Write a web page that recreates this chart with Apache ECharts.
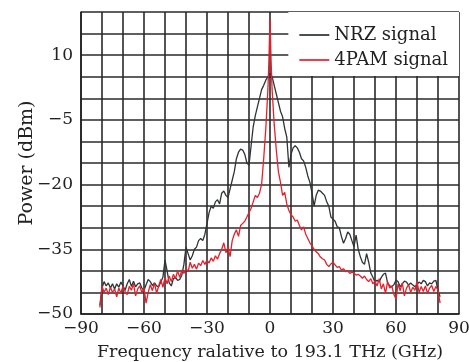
<!DOCTYPE html>
<html>
<head>
  <meta charset="UTF-8">
  <title></title>
  <script type="text/javascript" src="https://cdn.jsdelivr.net/npm/echarts@6/dist/echarts.min.js"></script>
  <style type="text/css">
    *{ margin: 0; padding: 0; box-sizing: border-box; }
    body{ background: #fff; }
    #main{ width: 469px; height: 362px; }
  </style>
</head>
<body>
  <div id="main"></div>
  <script type="text/javascript">
    // NRZ signal spectrum (GHz, dBm)
    var nrzFreq = [-81,-80,-79,-78,-77,-76,-75,-74,-73,-72,-71,-70,-69,-68,-67,-66,-65,-64,-63,-62,-61,-60,-59,-58,-57,-56,-55,-54,-53,-52,-51,-50,-49,-48,-47,-46,-45,-44,-43,-42,-41,-40,-39,-38,-37,-36,-35,-34,-33,-32,-31,-30,-29,-28,-27,-26,-25,-24,-23,-22,-21,-20,-19,-18,-17,-16,-15,-14,-13,-12,-11,-10,-9,-8,-7,-6,-5,-4,-3,-2,-1,0,1,2,3,4,5,6,7,8,9,10,11,12,13,14,15,16,17,18,19,20,21,22,23,24,25,26,27,28,29,30,31,32,33,34,35,36,37,38,39,40,41,42,43,44,45,46,47,48,49,50,51,52,53,54,55,56,57,58,59,60,61,62,63,64,65,66,67,68,69,70,71,72,73,74,75,76,77,78,79,80,81];
    var nrzPower = [-48,-44,-42.5,-43.5,-42.8,-44,-43,-44.2,-43,-43.8,-42.6,-43.5,-44.5,-43,-42,-43.6,-42.4,-43.7,-43,-42.8,-44,-44.5,-43.2,-42,-42.5,-43.4,-42.8,-43.5,-43.7,-42.6,-41.5,-37.5,-40,-42.8,-43.5,-41.8,-41.5,-42.2,-42,-41,-38.5,-34.5,-36,-37.5,-36.5,-35,-34.5,-33,-32.5,-33,-31.5,-29,-26.5,-25,-25.5,-24,-23.5,-24.5,-22,-21.5,-22.5,-23,-21,-19,-17,-14,-12.5,-11.8,-12,-13,-15,-15.5,-11,-6.6,-4,-2,0,2,3,4.2,5,5.8,5,3,1,-1,-3,-4.3,-7,-9,-16,-13,-11.5,-11,-11.5,-12.5,-14,-14.5,-16,-18,-19.5,-22,-25,-22.5,-21.3,-21.5,-22,-22.5,-24,-25,-27.5,-28,-28.5,-29.8,-30,-32,-33.6,-32.5,-31,-31.5,-33,-34.4,-31.7,-35,-36.7,-38,-38.5,-36,-38,-40.5,-41.5,-42.6,-42.2,-42.6,-41.5,-40.8,-40.5,-42.8,-43.5,-43.7,-43.2,-42.1,-42.5,-43.7,-43,-42.4,-42.6,-43.3,-42.8,-43.3,-43.7,-43.2,-42.6,-43,-42.2,-42.5,-43.5,-42.8,-43,-42.4,-42.2,-44.5,-46];

    // 4PAM signal spectrum (GHz, dBm)
    var pamFreq = [-81,-80,-79,-78,-77,-76,-75,-74,-73,-72,-71,-70,-69,-68,-67,-66,-65,-64,-63,-62,-61,-60,-59,-58,-57,-56,-55,-54,-53,-52,-51,-50,-49,-48,-47,-46,-45,-44,-43,-42,-41,-40,-39,-38,-37,-36,-35,-34,-33,-32,-31,-30,-29,-28,-27,-26,-25,-24,-23,-22,-21,-20,-19,-18,-17,-16,-15,-14,-13,-12,-11,-10,-9,-8,-7,-6,-5,-4,-3,-2,-1,-0.5,0,0.5,1,2,3,4,5,6,7,8,9,10,11,12,13,14,15,16,17,18,19,20,21,22,23,24,25,26,27,28,29,30,31,32,33,34,35,36,37,38,39,40,41,42,43,44,45,46,47,48,49,50,51,52,53,54,55,56,57,58,59,60,61,62,63,64,65,66,67,68,69,70,71,72,73,74,75,76,77,78,79,80,81];
    var pamPower = [-48.5,-43.5,-45,-44,-45.5,-43.8,-45,-44.2,-46,-44,-45.2,-43.5,-44.8,-45.5,-43.6,-44.5,-43,-45.8,-44.2,-43.5,-45,-44,-47.5,-45,-43.2,-44.6,-42.8,-45.2,-43.5,-42,-43.8,-41.5,-43,-41.2,-42.5,-40.8,-41.8,-40,-41.5,-39.8,-40.6,-39.5,-40.2,-38,-39.4,-38.5,-39.6,-38.2,-38.8,-37.6,-38.5,-37.5,-38.2,-37,-37.8,-36.5,-37.3,-36,-35,-33.5,-35.8,-34.5,-36.7,-33,-31.5,-30.5,-32,-29.5,-29,-28.5,-27.5,-26.5,-25.5,-24,-22.5,-23,-22,-20,-14,-7,2,9,18.5,9,2,-6,-12,-17,-19.5,-22.5,-21.8,-24.5,-26,-27,-27.5,-28.5,-28.2,-29.5,-30.5,-29.8,-31.5,-32.5,-33.5,-34.2,-35,-35.6,-36,-36.8,-37.2,-37.5,-38.5,-39,-38.4,-38,-38.6,-39.2,-39,-39.8,-39.5,-40.2,-40,-40.6,-40.3,-40.5,-41,-40.8,-41.2,-41.7,-41.2,-42,-42.5,-41.8,-43,-42.4,-43.5,-41.8,-44.2,-43,-45.2,-42.5,-44,-43.5,-45.5,-46.5,-43,-44.6,-42.8,-45.8,-44,-43.2,-45,-43.8,-44.5,-42.5,-45,-43.6,-44.8,-43.5,-45.2,-44,-43.4,-44.8,-43.6,-44.5,-47.5];

    var seriesNames = ['NRZ signal', '4PAM signal'];
    var xLabelValues = [-90, -60, -30, 0, 30, 60, 90];
    var yLabelValues = [-50, -35, -20, -5, 10];

    function pairs(fs, ps){
      return fs.map(function(f, i){ return [f, ps[i]]; });
    }
    function minus(v){ return v < 0 ? '\u2212' + Math.abs(v) : String(v); }

    var font = 'DejaVu Serif';
    var myChart = echarts.init(document.getElementById('main'));
    var option = {
      animation: false,
      backgroundColor: '#fff',
      textStyle: { fontFamily: font },
      grid: { left: 81, right: 10, top: 12, bottom: 48, outerBoundsMode: 'none', containLabel: false },
      legend: {
        data: seriesNames,
        orient: 'vertical',
        right: 10, top: 12,
        backgroundColor: '#fff',
        padding: [14, 11, 7, 11],
        itemGap: 7,
        itemWidth: 30, itemHeight: 2,
        icon: 'rect',
        textStyle: { fontFamily: font, fontSize: 18, color: '#222' }
      },
      xAxis: {
        type: 'value', min: -90, max: 90, interval: 10,
        name: 'Frequency ralative to 193.1 THz (GHz)',
        nameLocation: 'middle', nameGap: 29, nameMoveOverlap: false,
        nameTextStyle: { fontFamily: font, fontSize: 17.5, color: '#222' },
        axisLine: { onZero: false, lineStyle: { color: '#222', width: 1.6 } },
        axisTick: { show: false },
        axisLabel: {
          fontFamily: font, fontSize: 17, color: '#222', margin: 6,
          formatter: function(v){ return xLabelValues.indexOf(v) >= 0 ? minus(v) : ''; }
        },
        splitLine: { show: true, lineStyle: { color: '#2a2a2a', width: 1.6 } }
      },
      yAxis: {
        type: 'value', min: -50, max: 20, interval: 5,
        name: 'Power (dBm)',
        nameLocation: 'middle', nameGap: 44, nameMoveOverlap: false,
        nameTextStyle: { fontFamily: font, fontSize: 19, color: '#222' },
        axisLine: { show: true, onZero: false, lineStyle: { color: '#222', width: 1.6 } },
        axisTick: { show: false },
        axisLabel: {
          fontFamily: font, fontSize: 17, color: '#222', margin: 8,
          formatter: function(v){ return yLabelValues.indexOf(v) >= 0 ? minus(v) : ''; }
        },
        splitLine: { show: true, lineStyle: { color: '#2a2a2a', width: 1.6 } }
      },
      series: [
        {
          name: seriesNames[0], type: 'line', showSymbol: false,
          data: pairs(nrzFreq, nrzPower),
          itemStyle: { color: '#4a4f52' },
          lineStyle: { color: '#2e3436', width: 1.3 }
        },
        {
          name: seriesNames[1], type: 'line', showSymbol: false,
          data: pairs(pamFreq, pamPower),
          itemStyle: { color: '#e8414b' },
          lineStyle: { color: '#e4202c', width: 1.3 }
        }
      ]
    };
    myChart.setOption(option);
  </script>
</body>
</html>
